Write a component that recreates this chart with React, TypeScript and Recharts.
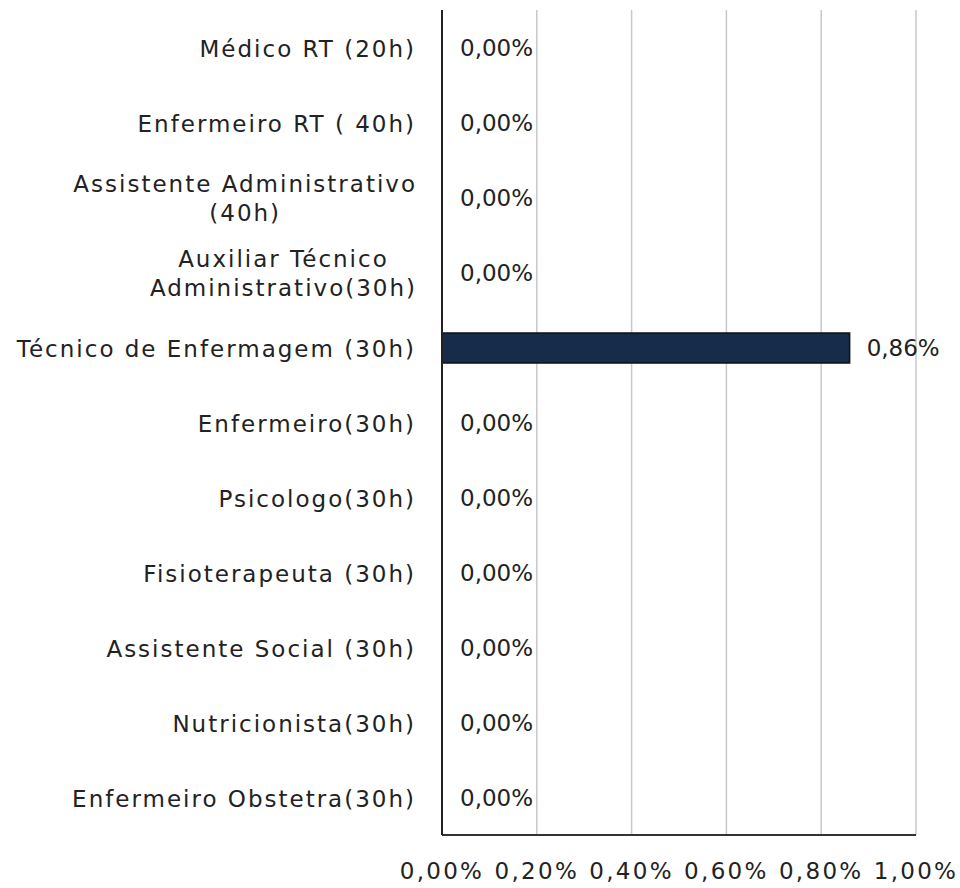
import { BarChart, Bar, XAxis, YAxis, CartesianGrid, LabelList, Rectangle } from 'recharts';

const categories = [
  'Médico RT (20h)',
  'Enfermeiro RT ( 40h)',
  'Assistente Administrativo\n(40h)',
  'Auxiliar Técnico\nAdministrativo(30h)',
  'Técnico de Enfermagem (30h)',
  'Enfermeiro(30h)',
  'Psicologo(30h)',
  'Fisioterapeuta (30h)',
  'Assistente Social (30h)',
  'Nutricionista(30h)',
  'Enfermeiro Obstetra(30h)',
];

// percentages
const values = [0, 0, 0, 0, 0.86, 0, 0, 0, 0, 0, 0];

const xTicks = [0, 0.2, 0.4, 0.6, 0.8, 1.0];

const data = categories.map((name, i) => ({ name, value: values[i] }));

const FONT = "'DejaVu Sans', Verdana, sans-serif";
const TEXT = '#222222';
const LABEL_SIZE = 23;
const LABEL_SPACING = 2;

const fmt = (v: number) => v.toFixed(2).replace('.', ',') + '%';

let ctx: CanvasRenderingContext2D | null = null;
function measure(s: string) {
  if (!ctx) ctx = document.createElement('canvas').getContext('2d');
  if (!ctx) return s.length * 13;
  ctx.font = `${LABEL_SIZE}px ${FONT}`;
  return ctx.measureText(s).width + LABEL_SPACING * s.length;
}

function CategoryTick(props: any) {
  const { x, y, payload } = props;
  const lines: string[] = String(payload.value).split('\n');
  if (lines.length === 1) {
    return (
      <text x={x} y={y + 9} textAnchor="end" fill={TEXT} fontSize={LABEL_SIZE}
        fontFamily={FONT} letterSpacing={LABEL_SPACING}>
        {lines[0]}
      </text>
    );
  }
  const maxW = Math.max(...lines.map(measure));
  const cx = x - maxW / 2;
  return (
    <g>
      {lines.map((ln, i) => (
        <text key={i} x={cx + LABEL_SPACING / 2} y={y + 9 + (i - (lines.length - 1) / 2) * 29}
          textAnchor="middle" fill={TEXT} fontSize={LABEL_SIZE} fontFamily={FONT}
          letterSpacing={LABEL_SPACING}>
          {ln}
        </text>
      ))}
    </g>
  );
}

// zero values still get a label, but no visible bar
function BarShape(props: any) {
  if (!props.value) return <g />;
  return <Rectangle {...props} />;
}

export default function App() {
  return (
    <div style={{ position: 'absolute', left: 0, top: 0, background: '#fff' }}>
      <BarChart
        width={960}
        height={888}
        data={data}
        layout="vertical"
        margin={{ top: 10, right: 44, bottom: 0, left: 0 }}
      >
        <CartesianGrid horizontal={false} stroke="#c8c8c8" strokeWidth={1.5} />
        <XAxis
          type="number"
          domain={[0, 1]}
          ticks={xTicks}
          tickFormatter={fmt}
          height={53}
          axisLine={{ stroke: '#333', strokeWidth: 2 }}
          tickLine={false}
          tickSize={8}
          tickMargin={20}
          tick={{ fill: TEXT, fontSize: 23, fontFamily: FONT, letterSpacing: 2.3 }}
          interval={0}
        />
        <YAxis
          type="category"
          dataKey="name"
          width={442}
          axisLine={{ stroke: '#222', strokeWidth: 2 }}
          tickLine={false}
          tickSize={6}
          tickMargin={20}
          tick={<CategoryTick />}
          interval={0}
        />
        <Bar dataKey="value" barSize={30} fill="#172b4b" stroke="#111" strokeWidth={1.5}
          minPointSize={1} shape={<BarShape />} isAnimationActive={false}>
          <LabelList dataKey="value" position="right" offset={17} formatter={(v: any) => fmt(Number(v))}
            fill={TEXT} fontSize={23} fontFamily={FONT} />
        </Bar>
      </BarChart>
    </div>
  );
}
